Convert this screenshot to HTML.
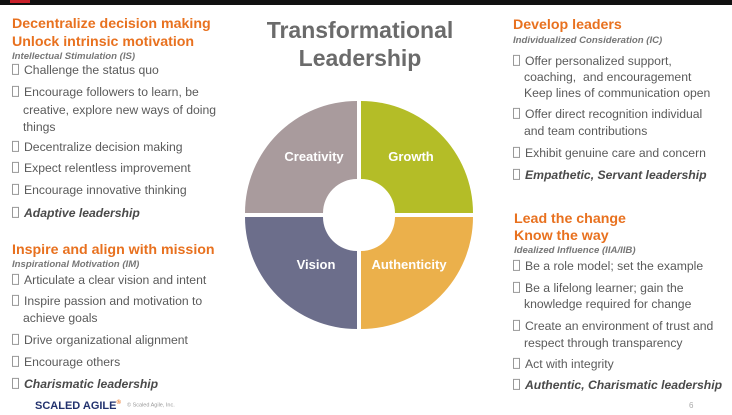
<!DOCTYPE html>
<html><head><meta charset="utf-8">
<style>
body{margin:0;width:732px;height:415px;background:#fff;position:relative;overflow:hidden;font-family:"Liberation Sans",sans-serif}
.t{position:absolute;white-space:nowrap;line-height:1;transform:translateY(-50%)}
.h{color:#e8711f;font-weight:bold;font-size:14.2px}
.s{color:#777;font-weight:bold;font-style:italic;font-size:9.6px}
.b{color:#5a5a5a;font-size:12.2px}
.bi{color:#4a4a4a;font-size:12.2px;font-weight:bold;font-style:italic}
.box{display:inline-block;width:5px;height:9px;border:1px solid #999;margin-right:5px;vertical-align:-1px}
</style></head><body>
<div style="position:absolute;left:0;top:0;width:732px;height:5px;background:#111"></div>
<div style="position:absolute;left:10px;top:0;width:20px;height:3px;background:#c8202a"></div>

<div style="position:absolute;left:240px;width:240px;top:16px;text-align:center;color:#6b6b6b;font-weight:bold;font-size:23px;line-height:28px">Transformational<br>Leadership</div>

<svg style="position:absolute;left:0;top:0" width="732" height="415">
<g transform="translate(359,215)" font-family="Liberation Sans" font-weight="bold" font-size="13" fill="#fff" text-anchor="middle">
<path d="M-2,-36 L-2,-114 A112,112 0 0 0 -114,-2 L-36,-2 A34,34 0 0 1 -2,-36Z" fill="#a99b9d"/>
<path d="M2,-36 L2,-114 A112,112 0 0 1 114,-2 L36,-2 A34,34 0 0 0 2,-36Z" fill="#b4bd27"/>
<path d="M-2,36 L-2,114 A112,112 0 0 1 -114,2 L-36,2 A34,34 0 0 0 -2,36Z" fill="#6c6e8b"/>
<path d="M2,36 L2,114 A112,112 0 0 0 114,2 L36,2 A34,34 0 0 1 2,36Z" fill="#ebb04b"/>
<text x="-45" y="-54">Creativity</text>
<text x="52" y="-54">Growth</text>
<text x="-43" y="54">Vision</text>
<text x="50" y="54">Authenticity</text>
</g></svg>

<!-- left column -->
<div class="t h" style="left:12px;top:24px">Decentralize decision making</div>
<div class="t h" style="left:12px;top:42px">Unlock intrinsic motivation</div>
<div class="t s" style="left:12px;top:57px">Intellectual Stimulation (IS)</div>
<div class="t b" style="left:12px;top:70px"><span class="box"></span>Challenge the status quo</div>
<div class="t b" style="left:12px;top:92px"><span class="box"></span>Encourage followers to learn, be</div>
<div class="t b" style="left:23px;top:110px">creative, explore new ways of doing</div>
<div class="t b" style="left:23px;top:127px">things</div>
<div class="t b" style="left:12px;top:147px"><span class="box"></span>Decentralize decision making</div>
<div class="t b" style="left:12px;top:168px"><span class="box"></span>Expect relentless improvement</div>
<div class="t b" style="left:12px;top:190px"><span class="box"></span>Encourage innovative thinking</div>
<div class="t bi" style="left:12px;top:213px"><span class="box"></span>Adaptive leadership</div>

<div class="t h" style="left:12px;top:250px">Inspire and align with mission</div>
<div class="t s" style="left:12px;top:265px">Inspirational Motivation (IM)</div>
<div class="t b" style="left:12px;top:280px"><span class="box"></span>Articulate a clear vision and intent</div>
<div class="t b" style="left:12px;top:301px"><span class="box"></span>Inspire passion and motivation to</div>
<div class="t b" style="left:23px;top:318px">achieve goals</div>
<div class="t b" style="left:12px;top:340px"><span class="box"></span>Drive organizational alignment</div>
<div class="t b" style="left:12px;top:362px"><span class="box"></span>Encourage others</div>
<div class="t bi" style="left:12px;top:384px"><span class="box"></span>Charismatic leadership</div>

<!-- right column -->
<div class="t h" style="left:513px;top:25px">Develop leaders</div>
<div class="t s" style="left:513px;top:41px">Individualized Consideration (IC)</div>
<div class="t b" style="left:513px;top:61px"><span class="box"></span>Offer personalized support,</div>
<div class="t b" style="left:524px;top:77px">coaching,&nbsp; and encouragement</div>
<div class="t b" style="left:524px;top:93px">Keep lines of communication open</div>
<div class="t b" style="left:513px;top:114px"><span class="box"></span>Offer direct recognition individual</div>
<div class="t b" style="left:524px;top:131px">and team contributions</div>
<div class="t b" style="left:513px;top:153px"><span class="box"></span>Exhibit genuine care and concern</div>
<div class="t bi" style="left:513px;top:175px"><span class="box"></span>Empathetic, Servant leadership</div>

<div class="t h" style="left:514px;top:219px">Lead the change</div>
<div class="t h" style="left:514px;top:236px">Know the way</div>
<div class="t s" style="left:514px;top:251px">Idealized Influence (IIA/IIB)</div>
<div class="t b" style="left:513px;top:266px"><span class="box"></span>Be a role model; set the example</div>
<div class="t b" style="left:513px;top:288px"><span class="box"></span>Be a lifelong learner; gain the</div>
<div class="t b" style="left:524px;top:304px">knowledge required for change</div>
<div class="t b" style="left:513px;top:326px"><span class="box"></span>Create an environment of trust and</div>
<div class="t b" style="left:524px;top:343px">respect through transparency</div>
<div class="t b" style="left:513px;top:364px"><span class="box"></span>Act with integrity</div>
<div class="t bi" style="left:513px;top:385px"><span class="box"></span>Authentic, Charismatic leadership</div>

<!-- footer -->
<div class="t" style="left:35px;top:406px;color:#22326e;font-weight:bold;font-size:11px">SCALED AGILE<sup style="color:#e8711f;font-size:6px">®</sup></div>
<div class="t" style="left:127px;top:406px;color:#999;font-size:5.5px">© Scaled Agile, Inc.</div>
<div class="t" style="left:689px;top:406px;color:#aaa;font-size:8px">6</div>
</body></html>
